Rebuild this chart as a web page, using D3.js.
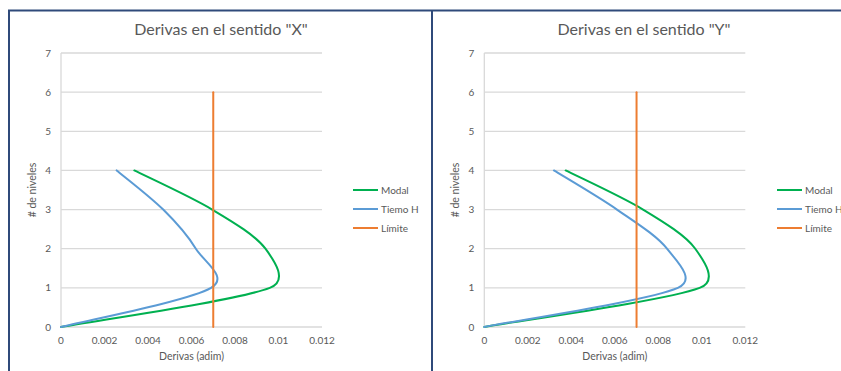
<!DOCTYPE html>
<html>
<head>
<meta charset="utf-8">
<script src="https://cdn.jsdelivr.net/npm/d3@7"></script>
<style>
  html, body { margin: 0; padding: 0; background: #ffffff; }
  svg { display: block; }
  text { font-family: Lato, "Open Sans", sans-serif; fill: #595959; }
</style>
</head>
<body>
<svg id="chart" width="841" height="371"></svg>
<script>
// Niveles (eje vertical)
const niveles = [0, 1, 2, 3, 4];
// Derivas en X
const modalX = [0, 0.0096, 0.0094, 0.00695, 0.00337];
const tiempoHX = [0, 0.0069, 0.0062, 0.0047, 0.00256];
// Derivas en Y
const modalY = [0, 0.0099, 0.0097, 0.0073, 0.00374];
const tiempoHY = [0, 0.0089, 0.0084, 0.0061, 0.0032];
// Límite de deriva
const limiteNiveles = [0, 6];
const limiteValores = [0.007, 0.007];

const xTicks = [0, 0.002, 0.004, 0.006, 0.008, 0.01, 0.012];
const xTickLabels = ["0", "0.002", "0.004", "0.006", "0.008", "0.01", "0.012"];
const yTicks = [0, 1, 2, 3, 4, 5, 6, 7];

const seriesNames = ["Modal", "Tiemo H", "Límite"];
const seriesColors = ["#00B050", "#5B9BD5", "#ED7D31"];

const titles = ['Derivas en el sentido "X"', 'Derivas en el sentido "Y"'];
const xTitle = "Derivas (adim)";
const yTitle = "# de niveles";

// Curva suavizada tipo hoja de cálculo: Bézier cúbica con brazos de
// control (P[i+1]-P[i-1])/6, limitados a la mitad del tramo.
function SmoothCurve(context) { this._context = context; }
SmoothCurve.prototype = {
  areaStart() { this._line = 0; },
  areaEnd() { this._line = NaN; },
  lineStart() { this._pts = []; },
  point(x, y) { this._pts.push([+x, +y]); },
  lineEnd() {
    const p = this._pts, c = this._context, n = p.length;
    if (!n) return;
    c.moveTo(p[0][0], p[0][1]);
    for (let i = 0; i < n - 1; i++) {
      const a = p[i], b = p[i + 1];
      const prev = p[i - 1] || a, next = p[i + 2] || b;
      const seg = Math.hypot(b[0] - a[0], b[1] - a[1]);
      const arm = (u, v) => {
        let dx = (v[0] - u[0]) / 6, dy = (v[1] - u[1]) / 6;
        const len = Math.hypot(dx, dy);
        if (len > seg / 2 && len > 0) { dx *= seg / 2 / len; dy *= seg / 2 / len; }
        return [dx, dy];
      };
      const a1 = arm(prev, b), a2 = arm(a, next);
      c.bezierCurveTo(a[0] + a1[0], a[1] + a1[1], b[0] - a2[0], b[1] - a2[1], b[0], b[1]);
    }
  }
};
const curveSmooth = context => new SmoothCurve(context);

const svg = d3.select("#chart");

// Marcos de los dos paneles
const frame = "#2F4A7A";
svg.append("line").attr("x1", 8).attr("x2", 841).attr("y1", 10.5).attr("y2", 10.5)
  .attr("stroke", frame).attr("stroke-width", 2);
svg.append("line").attr("x1", 9).attr("x2", 9).attr("y1", 10).attr("y2", 371)
  .attr("stroke", frame).attr("stroke-width", 2);
svg.append("line").attr("x1", 432).attr("x2", 432).attr("y1", 10).attr("y2", 371)
  .attr("stroke", frame).attr("stroke-width", 2);

function drawPanel(opts) {
  const g = svg.append("g");
  const x = d3.scaleLinear().domain([0, 0.012]).range([opts.left, opts.left + 261]);
  const y = d3.scaleLinear().domain([0, 7]).range([327, 53]);

  // Líneas de cuadrícula horizontales
  g.append("g").selectAll("line").data(yTicks).join("line")
    .attr("x1", x(0)).attr("x2", x(0.012))
    .attr("y1", d => y(d)).attr("y2", d => y(d))
    .attr("stroke", "#D9D9D9").attr("stroke-width", 1.3);

  // Eje vertical
  g.append("line").attr("x1", x(0)).attr("x2", x(0))
    .attr("y1", y(0)).attr("y2", y(7))
    .attr("stroke", "#D9D9D9").attr("stroke-width", 1.3);

  // Etiquetas eje Y
  g.append("g").selectAll("text").data(yTicks).join("text")
    .attr("x", x(0) - 10).attr("y", d => y(d) + 3.5)
    .attr("text-anchor", "end").attr("font-size", 10)
    .text(d => d);

  // Etiquetas eje X
  g.append("g").selectAll("text").data(xTicks).join("text")
    .attr("x", d => x(d)).attr("y", 344)
    .attr("text-anchor", "middle").attr("font-size", 10)
    .text((d, i) => xTickLabels[i]);

  // Títulos
  g.append("text").attr("x", opts.titleX).attr("y", 35)
    .attr("text-anchor", "middle").attr("font-size", 16).text(opts.title);
  g.append("text").attr("x", (x(0) + x(0.012)) / 2).attr("y", 360)
    .attr("text-anchor", "middle").attr("font-size", 10.5).text(xTitle);
  g.append("text")
    .attr("transform", `translate(${opts.yTitleX},190) rotate(-90)`)
    .attr("text-anchor", "middle").attr("font-size", 10.5).text(yTitle);

  const line = d3.line()
    .x(d => x(d[0])).y(d => y(d[1]))
    .curve(curveSmooth);

  const series = [
    { vals: opts.modal, lv: niveles, color: seriesColors[0] },
    { vals: opts.tiempo, lv: niveles, color: seriesColors[1] },
    { vals: limiteValores, lv: limiteNiveles, color: seriesColors[2] }
  ];
  series.forEach(s => {
    g.append("path")
      .datum(s.vals.map((v, i) => [v, s.lv[i]]))
      .attr("d", line)
      .attr("fill", "none")
      .attr("stroke", s.color)
      .attr("stroke-width", 2)
      .attr("stroke-linecap", "round");
  });

  // Leyenda
  const lg = g.append("g").selectAll("g").data(seriesNames).join("g")
    .attr("transform", (d, i) => `translate(${opts.legendX},${190 + i * 19})`);
  lg.append("line").attr("x1", 0).attr("x2", 25).attr("y1", 0).attr("y2", 0)
    .attr("stroke", (d, i) => seriesColors[i]).attr("stroke-width", 2);
  lg.append("text").attr("x", 28).attr("y", 3.5).attr("font-size", 10).text(d => d);
}

drawPanel({ left: 61, title: titles[0], titleX: 221, yTitleX: 36,
  legendX: 353, modal: modalX, tiempo: tiempoHX });
drawPanel({ left: 484.3, title: titles[1], titleX: 644, yTitleX: 459,
  legendX: 777, modal: modalY, tiempo: tiempoHY });
</script>
</body>
</html>
